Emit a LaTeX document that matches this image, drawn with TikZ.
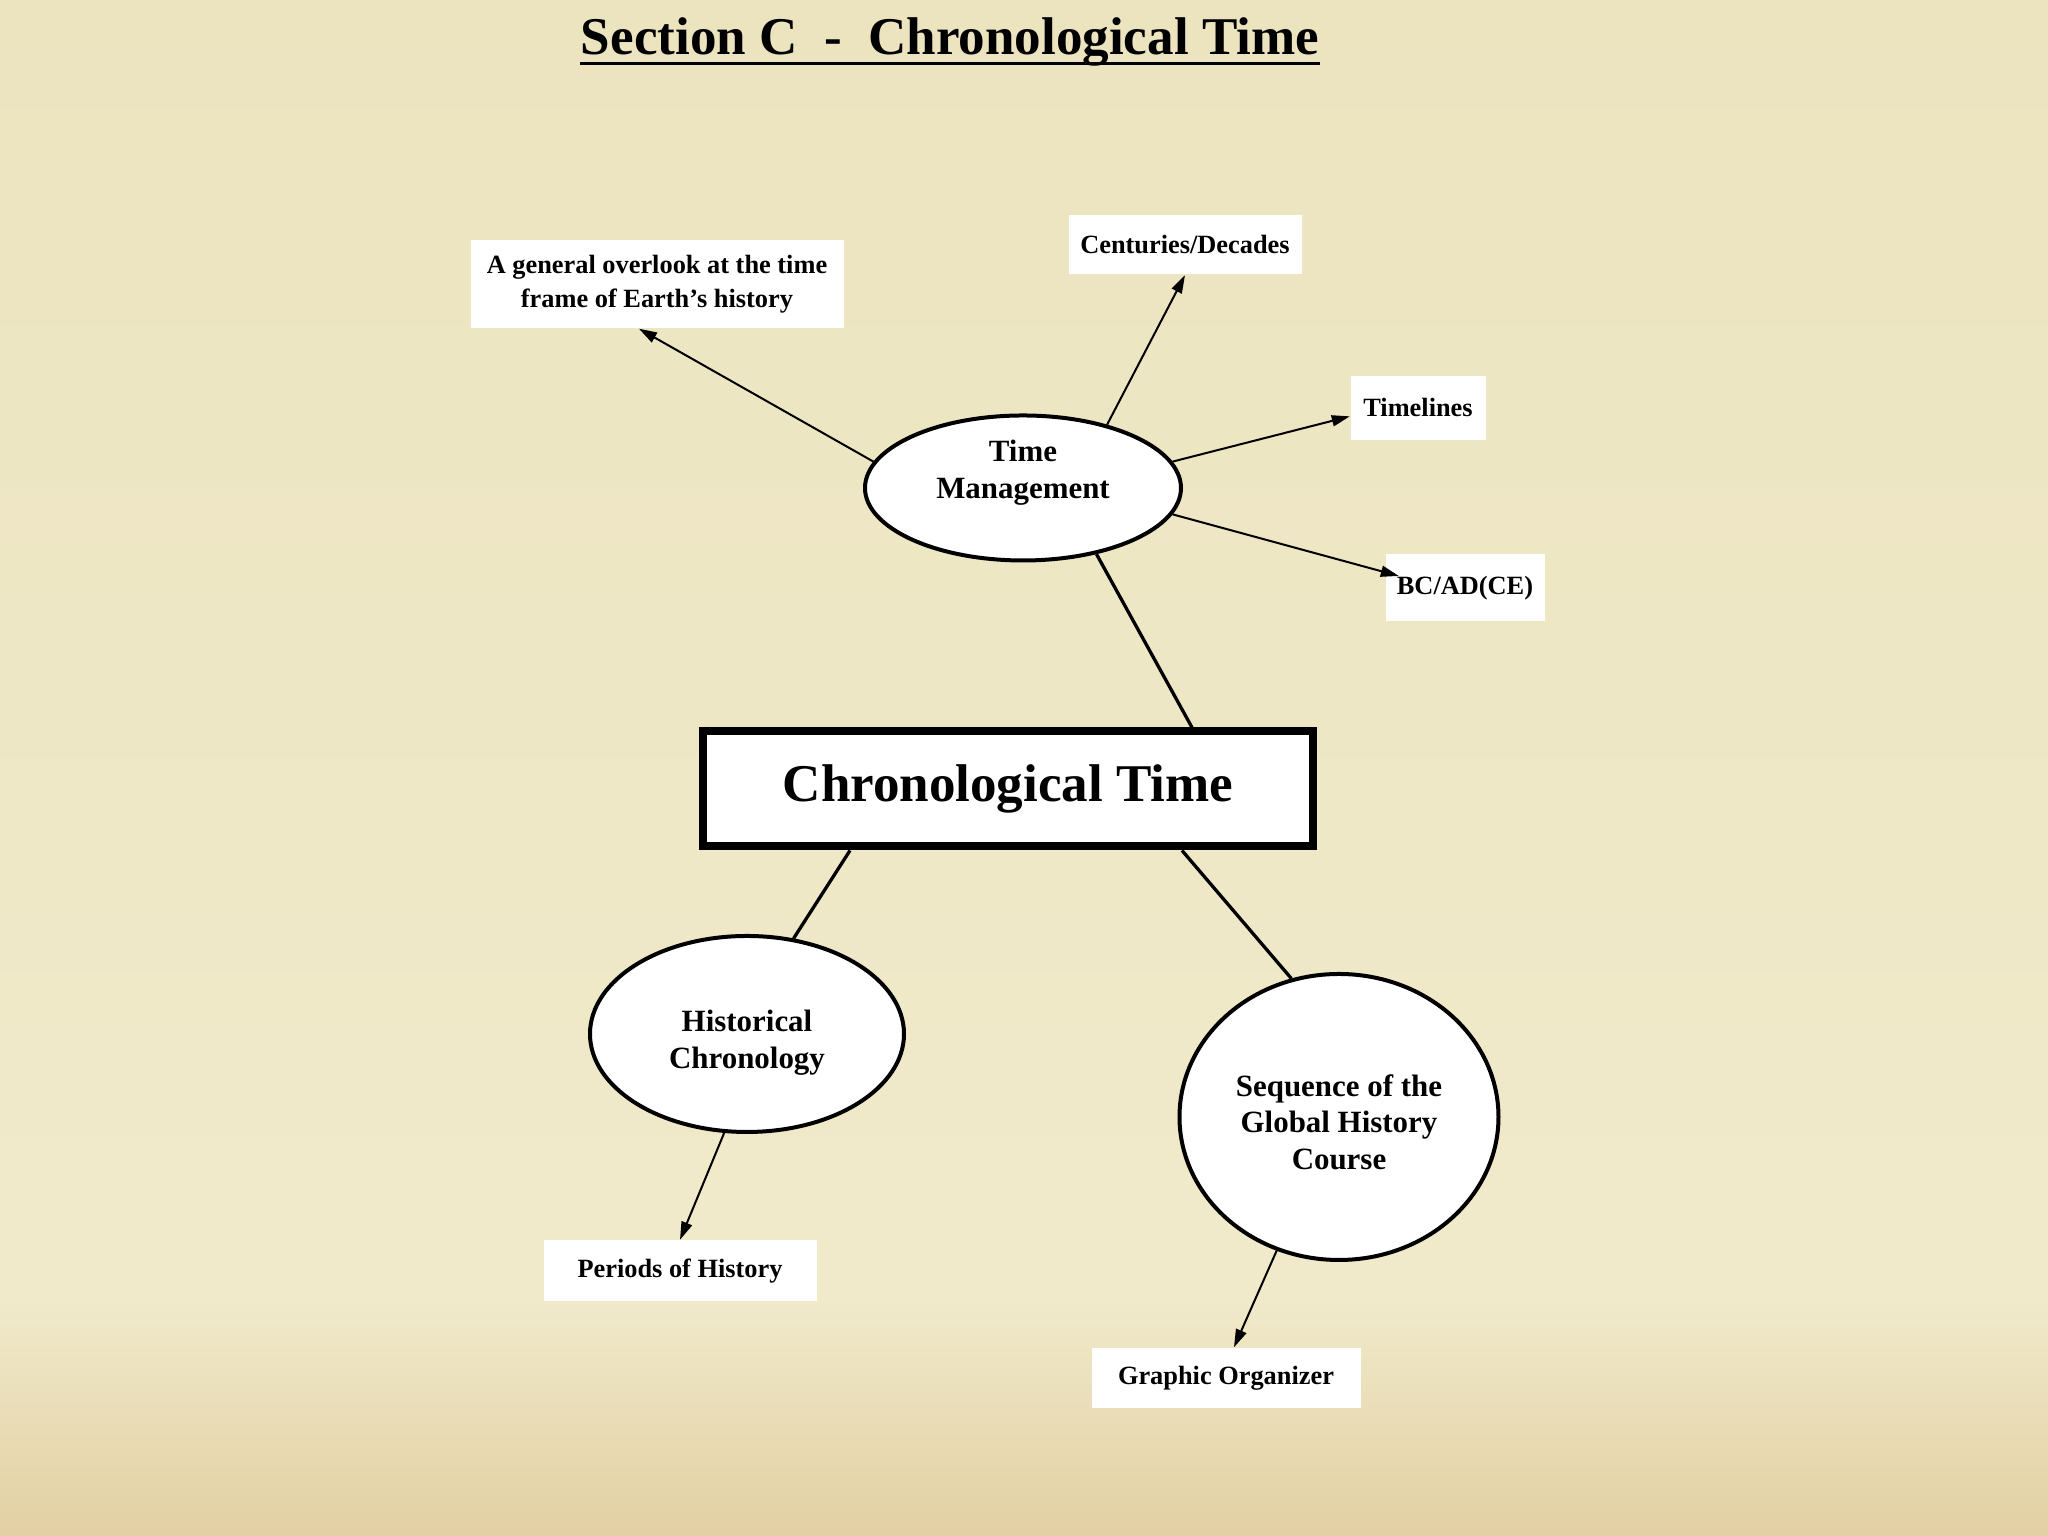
\documentclass[tikz,border=0pt]{standalone}
\usepackage{fontspec}
\setmainfont{Liberation Serif}
\usepackage{xcolor}
\usetikzlibrary{shapes.geometric,arrows.meta,calc}

\definecolor{paperTop}{HTML}{ECE4BF}
\definecolor{paperMid}{HTML}{F0EACB}
\definecolor{paperBot}{HTML}{E3D0A3}

\tikzset{
	leaf/.style={fill=white, inner sep=0pt, align=center, font=\fontsize{7.5}{9.7}\selectfont\bfseries},
	bubble/.style={ellipse, draw, fill=white, line width=0.04cm, inner sep=0pt, align=center, font=\fontsize{8.8}{10.4}\selectfont\bfseries},
	thin arrow/.style={-{Triangle[length=0.18cm,width=0.11cm]}, line width=0.02cm},
	link/.style={line width=0.033cm}
}

\begin{document}
\begin{tikzpicture}
	% paper
	\shade[top color=paperTop, bottom color=paperMid] (0,2.4) rectangle (20.48,15.36);
	\shade[top color=paperMid, bottom color=paperBot] (0,0) rectangle (20.48,2.4);
	
	\node[anchor=base, inner sep=0pt, font=\fontsize{15.1}{18}\selectfont\bfseries] (title) at (9.50,14.81) {Section C\ \ -\ \ Chronological Time};
	\draw[line width=0.03cm] ($(title.base west)+(0,-0.09)$) -- ($(title.base east)+(0,-0.09)$);
	
	\node[draw, fill=white, line width=0.08cm, minimum width=6.10cm, minimum height=1.15cm, font=\fontsize{15.1}{18}\selectfont\bfseries] (ct) at (10.08,7.47) {Chronological Time};
	
	\node[bubble, minimum width=3.16cm, minimum height=1.45cm, text depth=3.7mm] (tm) at (10.23,10.48) {Time\\Management};
	\node[bubble, minimum width=3.14cm, minimum height=1.96cm, text height=7.5mm] (hc) at (7.47,5.02) {Historical\\Chronology};
	\node[bubble, minimum width=3.19cm, minimum height=2.86cm, text height=10.5mm] (sq) at (13.39,4.19) {Sequence of the\\Global History\\Course};
	
	\node[leaf, minimum width=3.73cm, minimum height=0.88cm] (ga) at (6.57,12.52) {A general overlook at the time\\frame of Earth’s history};
	\node[leaf, minimum width=2.33cm, minimum height=0.59cm] (cd) at (11.85,12.91) {Centuries/Decades};
	\node[leaf, minimum width=1.35cm, minimum height=0.64cm] (tl) at (14.18,11.28) {Timelines};
	\node[leaf, minimum width=1.59cm, minimum height=0.67cm] (bc) at (14.65,9.48) {BC/AD(CE)};
	\node[leaf, minimum width=2.73cm, minimum height=0.61cm] (ph) at (6.80,2.65) {Periods of History};
	\node[leaf, minimum width=2.69cm, minimum height=0.60cm] (go) at (12.26,1.58) {Graphic Organizer};
	
	% main branches
	\draw[link] (tm.-42) -- ($(ct.north)+(1.84,0)$);
	\draw[link] ($(ct.south)+(-1.58,0)$) -- (hc.64);
	\draw[link] ($(ct.south)+(1.74,0)$) -- (sq.109);
	
	% sub topics
	\draw[thin arrow] (tm.170) -- (ga.248);
	\draw[thin arrow] (tm.37) -- (cd.south);
	\draw[thin arrow] (tm.10) -- (tl.187);
	\draw[thin arrow] (tm.-10) -- ($(bc.west)+(0.14,0.12)$);
	\draw[thin arrow] (hc.257) -- (ph.north);
	\draw[thin arrow] (sq.245) -- ($(go.north)+(0.08,0)$);
\end{tikzpicture}
\end{document}
